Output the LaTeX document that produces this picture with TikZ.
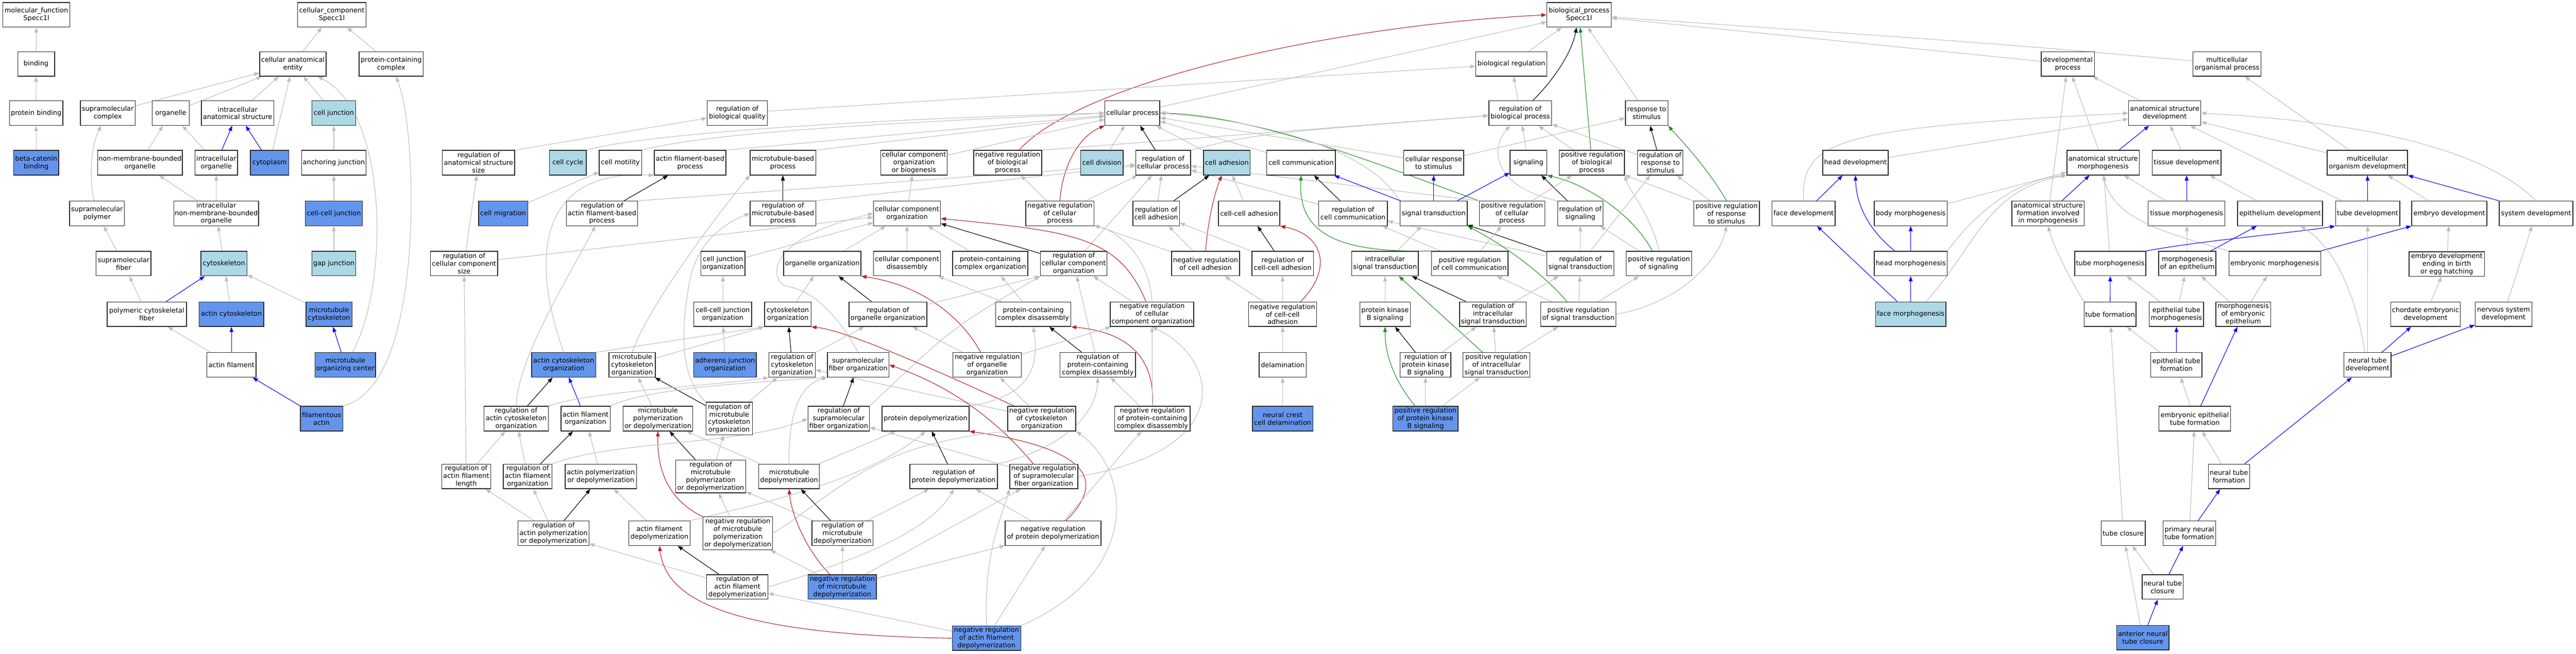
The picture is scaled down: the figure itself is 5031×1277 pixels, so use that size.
\documentclass[tikz,border=0pt]{standalone}
\usepackage{fontspec}
\setmainfont{DejaVu Sans}
\usetikzlibrary{arrows.meta,calc}
\definecolor{egray}{HTML}{BEBEBE}
\definecolor{cfblue}{HTML}{6495ED}
\definecolor{ltblue}{HTML}{ADD8E6}
\definecolor{fbred}{HTML}{B22222}
\definecolor{fgreen}{HTML}{228B22}
\definecolor{bord}{HTML}{2B2B2B}
\pgfdeclarelayer{bg}
\pgfsetlayers{bg,main}
\tikzset{
  gobox/.style={draw=bord, line width=1.4pt, fill=white, rectangle, minimum height=48pt,
    inner xsep=1.5pt, inner ysep=1pt, align=center, font=\fontsize{13pt}{15pt}\selectfont},
  cfill/.style={fill=cfblue},
  lfill/.style={fill=ltblue},
  tallbox/.style={minimum height=64pt},
  ed/.style={line width=1.1pt, -{Triangle[length=10pt,width=7.5pt]}},
  ge/.style={ed, draw=egray},
  ke/.style={ed, draw=black},
  be/.style={ed, draw=blue},
  re/.style={ed, draw=fbred},
  gre/.style={ed, draw=fgreen}
}
\newcommand\gn[6]{\node[gobox,minimum width=#4pt,#5] (#1) at (#2,#3) {#6};}
\newcommand\ee[3]{\draw[#1] (#2) -- (#3);}
\begin{document}
\begin{tikzpicture}[x=1pt,y=-1pt]
\begin{pgfonlayer}{bg}
\fill[white] (0,0) rectangle (5031,1277);
\end{pgfonlayer}
\useasboundingbox (0,0) rectangle (5031,1277);
% ---------------- MF / CC
\gn{mf}{71}{29}{131}{}{molecular\_function\\Specc1l}
\gn{bind}{70.5}{125}{72}{}{binding}
\gn{pbind}{70.7}{221}{104}{}{protein binding}
\gn{bcat}{70.7}{318}{88}{cfill}{beta-catenin\\binding}
\gn{cc}{648}{29}{134}{}{cellular\_component\\Specc1l}
\gn{cae}{572}{125}{130}{}{cellular anatomical\\entity}
\gn{pcc}{764}{125}{125}{}{protein-containing\\complex}
\gn{smc}{210.5}{221}{107}{}{supramolecular\\complex}
\gn{org}{333.5}{221}{72}{}{organelle}
\gn{ias}{464}{221}{141}{}{intracellular\\anatomical structure}
\gn{cj}{652}{221}{86}{lfill}{cell junction}
\gn{nmbo}{273.5}{318}{165}{}{non-membrane-bounded\\organelle}
\gn{io}{422.5}{318}{83}{}{intracellular\\organelle}
\gn{cyto}{526.6}{318}{75}{cfill}{cytoplasm}
\gn{aj}{652}{318}{126}{}{anchoring junction}
\gn{smp}{189.4}{417}{107}{}{supramolecular\\polymer}
\gn{inmbo}{422.4}{417}{165}{}{intracellular\\non-membrane-bounded\\organelle}
\gn{ccj}{652}{417}{112}{cfill}{cell-cell junction}
\gn{smf}{241.4}{515}{107}{}{supramolecular\\fiber}
\gn{csk}{437.4}{515}{90}{lfill}{cytoskeleton}
\gn{gj}{652}{515}{86}{lfill}{gap junction}
\gn{pcf}{286.6}{614}{155}{}{polymeric cytoskeletal\\fiber}
\gn{acsk}{452}{614}{126}{cfill}{actin cytoskeleton}
\gn{mcsk}{642.5}{614}{90}{cfill}{microtubule\\cytoskeleton}
\gn{af}{452}{713}{96}{}{actin filament}
\gn{mtoc}{674.4}{713}{118}{cfill}{microtubule\\organizing center}
\gn{fact}{628}{818}{83}{cfill}{filamentous\\actin}
% ---------------- BP left
\gn{rbq}{1440}{221}{118}{}{regulation of\\biological quality}
\gn{rass}{934.6}{318}{141}{}{regulation of\\anatomical structure\\size}
\gn{ccyc}{1109}{318}{72}{lfill}{cell cycle}
\gn{cmot}{1211.6}{318}{83}{}{cell motility}
\gn{afbp}{1347.7}{318}{140}{}{actin filament-based\\process}
\gn{mtbp}{1529}{318}{128}{}{microtubule-based\\process}
\gn{cmig}{982.6}{417}{96}{cfill}{cell migration}
\gn{rafbp}{1175.8}{417}{139}{}{regulation of\\actin filament-based\\process}
\gn{rmtbp}{1529}{417}{128}{}{regulation of\\microtubule-based\\process}
\gn{rccs}{906.4}{515}{131}{}{regulation of\\cellular component\\size}
\gn{cjo}{1412}{515}{86}{}{cell junction\\organization}
\gn{oo}{1606}{515}{151}{}{organelle organization}
\gn{ccjo}{1411.5}{614}{113}{}{cell-cell junction\\organization}
\gn{co}{1538.5}{614}{91}{}{cytoskeleton\\organization}
\gn{roo}{1734}{614}{152}{}{regulation of\\organelle organization}
\gn{aco}{1101}{713}{125}{cfill}{actin cytoskeleton\\organization}
\gn{mtco}{1234.7}{713}{90.5}{}{microtubule\\cytoskeleton\\organization}
\gn{ajo}{1416}{713}{122.5}{cfill}{adherens junction\\organization}
\gn{rco}{1547}{713}{90.5}{}{regulation of\\cytoskeleton\\organization}
\gn{sfo}{1676}{713}{120}{}{supramolecular\\fiber organization}
\gn{raco}{1008}{818}{125.7}{}{regulation of\\actin cytoskeleton\\organization}
\gn{afo}{1143.6}{818}{96}{}{actin filament\\organization}
\gn{mtpd}{1285}{818}{136}{}{microtubule\\polymerization\\or depolymerization}
\gn{rmtco}{1424}{818}{90.5}{tallbox}{regulation of\\microtubule\\cytoskeleton\\organization}
\gn{rsfo}{1638}{818}{120}{}{regulation of\\supramolecular\\fiber organization}
\gn{rafl}{910.5}{931}{96}{}{regulation of\\actin filament\\length}
\gn{rafo}{1030.6}{931}{95.4}{}{regulation of\\actin filament\\organization}
\gn{afpd}{1173.4}{931}{139}{}{actin polymerization\\or depolymerization}
\gn{rmpd}{1388}{931}{137}{tallbox}{regulation of\\microtubule\\polymerization\\or depolymerization}
\gn{md}{1541}{931}{119}{}{microtubule\\depolymerization}
\gn{rapd}{1081}{1042}{139}{}{regulation of\\actin polymerization\\or depolymerization}
\gn{afd}{1288}{1042}{120}{}{actin filament\\depolymerization}
\gn{nrmpd}{1441}{1042}{136}{tallbox}{negative regulation\\of microtubule\\polymerization\\or depolymerization}
\gn{rmd}{1645.5}{1042}{119.5}{}{regulation of\\microtubule\\depolymerization}
\gn{rafd}{1440}{1147}{120}{}{regulation of\\actin filament\\depolymerization}
\gn{nrmd}{1645}{1147}{133}{cfill}{negative regulation\\of microtubule\\depolymerization}
% ---------------- BP middle
\gn{cp}{2211.5}{221}{107}{}{cellular process}
\gn{ccob}{1785}{318}{130}{}{cellular component\\organization\\or biogenesis}
\gn{nrbp}{1968}{318}{133}{}{negative regulation\\of biological\\process}
\gn{cdiv}{2152}{318}{83}{lfill}{cell division}
\gn{rcp}{2271.7}{318}{107}{}{regulation of\\cellular process}
\gn{cadh}{2396}{318}{91}{lfill}{cell adhesion}
\gn{ccom}{2541}{318}{134}{}{cell communication}
\gn{cco}{1771.5}{417}{130.6}{}{cellular component\\organization}
\gn{nrcp}{2070}{417}{133}{}{negative regulation\\of cellular\\process}
\gn{rca}{2258}{417}{91}{}{regulation of\\cell adhesion}
\gn{cca}{2439.5}{417}{120}{}{cell-cell adhesion}
\gn{ccd}{1771.5}{515}{130.6}{}{cellular component\\disassembly}
\gn{pcco}{1934}{515}{147}{}{protein-containing\\complex organization}
\gn{rcco}{2097}{515}{130}{}{regulation of\\cellular component\\organization}
\gn{nrca}{2354.5}{515}{133}{}{negative regulation\\of cell adhesion}
\gn{rcca}{2505}{515}{120}{}{regulation of\\cell-cell adhesion}
\gn{pccd}{2018}{614}{147}{}{protein-containing\\complex disassembly}
\gn{nrcco}{2250}{614}{163}{}{negative regulation\\of cellular\\component organization}
\gn{nrcca}{2505}{614}{133}{}{negative regulation\\of cell-cell\\adhesion}
\gn{nroo}{1928}{713}{134}{}{negative regulation\\of organelle\\organization}
\gn{rpccd}{2144}{713}{147.5}{}{regulation of\\protein-containing\\complex disassembly}
\gn{delam}{2505}{713}{92}{}{delamination}
\gn{pd}{1807.7}{818}{170}{}{protein depolymerization}
\gn{nrco}{2034.6}{818}{133}{}{negative regulation\\of cytoskeleton\\organization}
\gn{nrpccd}{2250.5}{818}{147.5}{}{negative regulation\\of protein-containing\\complex disassembly}
\gn{nccd}{2505}{818}{118}{cfill}{neural crest\\cell delamination}
\gn{rpd}{1862.6}{931}{171}{}{regulation of\\protein depolymerization}
\gn{nrsfo}{2038.5}{931}{133}{}{negative regulation\\of supramolecular\\fiber organization}
\gn{nrpd}{2056.7}{1042}{187}{}{negative regulation\\of protein depolymerization}
\gn{nrafd}{1926.7}{1247}{134}{cfill}{negative regulation\\of actin filament\\depolymerization}
% ---------------- BP signaling
\gn{bp}{3084}{29}{126}{}{biological\_process\\Specc1l}
\gn{breg}{2951.7}{125}{139}{}{biological regulation}
\gn{rbp}{2969}{221}{122.5}{}{regulation of\\biological process}
\gn{rs}{3216}{221}{83}{}{response to\\stimulus}
\gn{crs}{2800}{318}{117}{}{cellular response\\to stimulus}
\gn{sig}{2985}{318}{72}{}{signaling}
\gn{prbp}{3109}{318}{127.4}{}{positive regulation\\of biological\\process}
\gn{rrs}{3242.6}{318}{88.4}{}{regulation of\\response to\\stimulus}
\gn{rcc}{2642.5}{417}{134}{}{regulation of\\cell communication}
\gn{st}{2800}{417}{131}{}{signal transduction}
\gn{prcp}{2953}{417}{128}{}{positive regulation\\of cellular\\process}
\gn{rsig}{3086.5}{417}{88.4}{}{regulation of\\signaling}
\gn{prrs}{3372}{417}{128}{}{positive regulation\\of response\\to stimulus}
\gn{ist}{2705}{515}{130}{}{intracellular\\signal transduction}
\gn{prcc}{2870.5}{515}{149.6}{}{positive regulation\\of cell communication}
\gn{rst}{3086.5}{515}{130.6}{}{regulation of\\signal transduction}
\gn{prs}{3240}{515}{127.4}{}{positive regulation\\of signaling}
\gn{pkb}{2705}{614}{98.7}{}{protein kinase\\B signaling}
\gn{rist}{2915.7}{614}{130.6}{}{regulation of\\intracellular\\signal transduction}
\gn{prst}{3082.6}{614}{147}{}{positive regulation\\of signal transduction}
\gn{rpkb}{2784}{713}{99}{}{regulation of\\protein kinase\\B signaling}
\gn{prist}{2922.6}{713}{131}{}{positive regulation\\of intracellular\\signal transduction}
\gn{prpkb}{2784}{818}{127.4}{cfill}{positive regulation\\of protein kinase\\B signaling}
% ---------------- development
\gn{devp}{4038.4}{125}{104}{}{developmental\\process}
\gn{mop}{4349.3}{125}{133}{}{multicellular\\organismal process}
\gn{asd}{4227.7}{221}{141}{}{anatomical structure\\development}
\gn{hdev}{3623.8}{318}{128}{}{head development}
\gn{asm}{4107.5}{318}{141.5}{}{anatomical structure\\morphogenesis}
\gn{tdev}{4270.5}{318}{134}{}{tissue development}
\gn{mod}{4623.6}{318}{157}{}{multicellular\\organism development}
\gn{fdev}{3522.5}{417}{123}{}{face development}
\gn{bmorph}{3731.6}{417}{142}{}{body morphogenesis}
\gn{asfim}{4000}{417}{141.5}{}{anatomical structure\\formation involved\\in morphogenesis}
\gn{tmorph}{4270.5}{417}{150}{}{tissue morphogenesis}
\gn{epdev}{4453}{417}{166}{}{epithelium development}
\gn{tubedev}{4624}{417}{125.5}{}{tube development}
\gn{edev}{4783.5}{417}{147}{}{embryo development}
\gn{sysdev}{4953}{417}{144}{}{system development}
\gn{hmorph}{3731.6}{515}{142}{}{head morphogenesis}
\gn{tubemorph}{4121.4}{515}{139}{}{tube morphogenesis}
\gn{moe}{4271.8}{515}{112}{}{morphogenesis\\of an epithelium}
\gn{emorph}{4442.6}{515}{179}{}{embryonic morphogenesis}
\gn{edeb}{4778.6}{516}{147}{}{embryo development\\ending in birth\\or egg hatching}
\gn{fmorph}{3731.6}{614}{137.7}{lfill}{face morphogenesis}
\gn{tubeform}{4121}{614}{101.4}{}{tube formation}
\gn{etm}{4250.6}{614}{106}{}{epithelial tube\\morphogenesis}
\gn{mee}{4381}{614}{107}{}{morphogenesis\\of embryonic\\epithelium}
\gn{ced}{4737}{614}{136}{}{chordate embryonic\\development}
\gn{nsd}{4889.4}{614}{110.5}{}{nervous system\\development}
\gn{etf}{4250.6}{713}{100}{}{epithelial tube\\formation}
\gn{ntd}{4623.7}{713}{91.7}{}{neural tube\\development}
\gn{eetf}{4286.4}{818}{139.5}{}{embryonic epithelial\\tube formation}
\gn{ntf}{4353}{931}{80.5}{}{neural tube\\formation}
\gn{tclos}{4146.6}{1042}{86}{}{tube closure}
\gn{pntf}{4275.8}{1042}{103}{}{primary neural\\tube formation}
\gn{ntc}{4223.6}{1147}{80}{}{neural tube\\closure}
\gn{antc}{4185}{1246}{101.7}{cfill}{anterior neural\\tube closure}
% ================= EDGES
\begin{pgfonlayer}{bg}
% MF / CC
\ee{ge}{bind}{mf}
\ee{ge}{pbind}{bind}
\ee{ge}{bcat}{pbind}
\ee{ge}{cae}{cc}
\ee{ge}{pcc}{cc}
\ee{ge}{smc}{cae}
\ee{ge}{org}{cae}
\ee{ge}{ias}{cae}
\ee{ge}{cj}{cae}
\ee{ge}{cyto}{cae}
\ee{ge}{nmbo}{org}
\ee{ge}{io}{org}
\ee{be}{io}{ias}
\ee{be}{cyto}{ias}
\ee{ge}{aj}{cj}
\draw[ge] (smp) .. controls (172,340) and (180,280) .. (smc);
\ee{ge}{inmbo}{nmbo}
\ee{ge}{inmbo}{io}
\ee{ge}{ccj}{aj}
\ee{ge}{smf}{smp}
\ee{ge}{csk}{inmbo}
\ee{ge}{gj}{ccj}
\ee{ge}{pcf}{smf}
\ee{be}{pcf}{csk}
\ee{ge}{acsk}{csk}
\ee{ge}{mcsk}{csk}
\ee{ge}{af}{pcf}
\ee{be}{af}{acsk}
\ee{be}{mtoc}{mcsk}
\draw[ge] (mtoc) .. controls (760,560) and (760,220) .. (cae);
\ee{be}{fact}{af}
\draw[ge] (fact.north east) .. controls (800,760) and (810,450) .. (800,300) .. controls (795,220) and (785,180) .. (pcc);
% BP top
\ee{ge}{breg}{bp}
\draw[ke] (rbp) .. controls (3040,150) and (3070,100) .. (bp);
\ee{gre}{prbp}{bp}
\ee{ge}{rs}{bp}
\draw[re] (nrbp) .. controls (2110,160) and (2600,50) .. (bp.west);
\ee{ge}{cp}{bp}
\ee{ge}{devp}{bp}
\draw[ge] (mop) .. controls (3900,85) .. (bp);
\ee{ge}{rbp}{breg}
\ee{ge}{rbq}{breg}
\draw[ge] (nrbp.north east) -- (rbp);
\draw[ge] (rcp.north east) .. controls (2450,262) .. (rbp);
\ee{ge}{prbp}{rbp}
\ee{ge}{rrs}{rbp}
\ee{ge}{sig}{rbp}
\draw[ge] (rsig.north west) .. controls (2915,365) and (2910,290) .. ($(rbp.south)+(-20,0)$);
\ee{ge}{crs}{rs}
\ee{ke}{rrs}{rs}
\draw[gre] (prrs.north) .. controls (3330,320) and (3270,260) .. (rs.south east);
% cellular process
\draw[ge] (ccyc.north east) .. controls (1250,262) and (1700,232) .. (cp.west);
\draw[ge] (cmot.north east) .. controls (1400,255) and (1800,238) .. (cp.west);
\draw[ge] (afbp.north east) -- (cp);
\draw[ge] (mtbp.north east) -- (cp);
\ee{ge}{ccob}{cp}
\ee{ge}{cdiv}{cp}
\ee{ke}{rcp}{cp}
\ee{ge}{cadh}{cp}
\ee{ge}{ccom}{cp}
\draw[re] (nrcp.north) .. controls (2075,320) and (2110,265) .. (cp.south west);
\draw[gre] (prcp.north west) .. controls (2690,320) and (2450,225) .. (cp.east);
\ee{ge}{crs}{cp}
\draw[ge] (st.north west) .. controls (2670,285) and (2450,235) .. (cp.east);
\draw[ge] (rass.north east) -- (rbq);
\ee{ge}{cmig}{cmot}
\ee{ke}{rafbp}{afbp}
\draw[ge] (aco.north) .. controls (1040,520) and (1040,330) .. (afbp.south west);
\ee{ke}{rmtbp}{mtbp}
\draw[ge] (mtco.north) .. controls (1265,600) and (1400,420) .. (mtbp.south west);
\draw[ge] (rafbp.north east) -- (rcp);
\draw[ge] (rmtbp.north east) -- (rcp);
\ee{ge}{nrcp}{rcp}
\ee{ge}{rca}{rcp}
\ee{ge}{rcco}{rcp}
\ee{ge}{rcc}{rcp}
\draw[ge] (prcp.north west) -- (rcp);
\ee{ge}{rccs}{rass}
\ee{ge}{cco}{ccob}
\ee{ge}{nrcp}{nrbp}
\ee{ke}{rca}{cadh}
\ee{ge}{cca}{cadh}
\draw[re] (nrca.north) .. controls (2360,420) and (2375,370) .. ($(cadh.south)+(-10,0)$);
\ee{ke}{rcc}{ccom}
\ee{be}{st}{ccom}
\draw[gre] (prcc.north west) .. controls (2600,495) and (2535,450) .. (ccom.south);
\ee{be}{st}{crs}
\ee{be}{st}{sig}
\ee{ke}{rsig}{sig}
\draw[gre] (prs) .. controls (3190,420) and (3100,360) .. (sig.south east);
\ee{ge}{prcp}{prbp}
\draw[ge] (prs.north) .. controls (3225,420) and (3180,370) .. (prbp.south east);
\ee{ge}{prrs}{prbp}
\ee{ge}{rst}{rrs}
\ee{ge}{prrs}{rrs}
% cellular component organization
\ee{ge}{rccs}{cco}
\ee{ge}{cjo}{cco}
\ee{ge}{oo}{cco}
\draw[ge] (sfo.north) .. controls (1650,640) and (1600,570) .. (1540,560) .. controls (1505,555) and (1480,470) .. (cco.west);
\ee{ge}{ccd}{cco}
\ee{ge}{pcco}{cco}
\ee{ke}{rcco}{cco}
\draw[re] ($(nrcco.north)+(-12,0)$) .. controls (2185,460) and (2090,452) .. ($(cco.east)+(0,10)$);
\ee{ge}{nrca}{nrcp}
\draw[ge] (nrcco.north) .. controls (2245,500) and (2180,450) .. (nrcp.south east);
\ee{ge}{nrca}{rca}
\ee{ge}{rcca}{rca}
\ee{ke}{rcca}{cca}
\draw[re] ($(nrcca.north)+(35,0)$) .. controls (2600,530) and (2590,460) .. (cca.south east);
\ee{ge}{rst}{rcc}
\ee{ge}{prcc}{rcc}
\ee{ge}{ist}{st}
\ee{ke}{rst}{st}
\draw[gre] ($(prst.north)+(-22,0)$) .. controls (3000,520) and (2920,470) .. (st.south east);
\ee{ge}{prcc}{prcp}
\ee{ge}{rst}{rsig}
\ee{ge}{prs}{rsig}
\draw[ge] (prst.east) .. controls (3290,590) and (3360,500) .. (prrs.south);
\draw[ge] (raco.north) .. controls (1012,700) and (1100,560) .. (rafbp);
\draw[ge] (rmtco.north west) .. controls (1320,730) and (1335,620) .. (1345,560) .. controls (1352,510) and (1380,450) .. (rmtbp.west);
\ee{ge}{rafl}{rccs}
\ee{ge}{ccjo}{cjo}
\ee{ge}{co}{oo}
\ee{ke}{roo}{oo}
\draw[re] (nroo) .. controls (1890,640) and (1820,560) .. (oo.south east);
\ee{ge}{pccd}{ccd}
\ee{ge}{pccd}{pcco}
\draw[ge] (roo) -- (rcco.south west);
\ee{ge}{rpccd}{rcco}
\draw[ge] (rsfo.north east) .. controls (1860,640) .. (rcco.south west);
\ee{ge}{nrcco}{rcco}
\ee{ge}{nrcca}{nrca}
\ee{ge}{nrcca}{rcca}
\ee{ge}{pkb}{ist}
\ee{ke}{rist}{ist}
\ee{gre}{prist}{ist}
\ee{ge}{prst}{prcc}
\ee{ge}{rist}{rst}
\ee{ge}{prst}{rst}
\ee{ge}{prst}{prs}
\ee{ge}{ajo}{ccjo}
\draw[ge] (aco.north east) -- (co.south west);
\draw[ge] (mtco) -- (co.south west);
\ee{ke}{rco}{co}
\draw[re] (nrco) .. controls (1810,715) and (1650,645) .. (co.south east);
\ee{ge}{rco}{roo}
\ee{ge}{nroo}{roo}
\ee{ke}{rpccd}{pccd}
\draw[ge] (pd.north east) .. controls (2010,775) and (2030,720) .. (pccd.south);
\draw[re] (nrpccd.north) .. controls (2256,710) and (2215,650) .. (pccd.south east);
\ee{ge}{nroo}{nrcco}
\ee{ge}{nrpccd}{nrcco}
\draw[ge] (nrsfo.east) .. controls (2420,880) and (2380,700) .. (nrcco.south);
\ee{ge}{delam}{nrcca}
\ee{ke}{rpkb}{pkb}
\draw[gre] (prpkb) .. controls (2720,740) and (2705,690) .. (pkb.south);
\ee{ge}{rpkb}{rist}
\ee{ge}{prist}{rist}
\ee{ge}{prist}{prst}
\ee{ke}{raco}{aco}
\ee{be}{afo}{aco}
\ee{ge}{mtpd}{mtco}
\ee{ke}{rmtco}{mtco}
\draw[ge] (raco.north east) .. controls (1150,765) and (1380,755) .. (rco.south west);
\ee{ge}{rmtco}{rco}
\ee{ge}{nrco}{rco}
\draw[ge] (afo.north east) .. controls (1260,760) and (1450,748) .. (sfo.south west);
\ee{ke}{rsfo}{sfo}
\draw[ge] (md.north) .. controls (1540,790) and (1570,750) .. (sfo.south west);
\draw[re] (nrsfo) .. controls (1930,800) and (1830,745) .. (sfo.east);
\ee{ge}{nrco}{nroo}
\ee{ge}{nrpccd}{rpccd}
\draw[ge] (rpd.north east) .. controls (2060,880) and (2140,820) .. (rpccd.south);
\ee{ge}{nccd}{delam}
\ee{ge}{prpkb}{rpkb}
\ee{ge}{prpkb}{prist}
\ee{ge}{rafl}{raco}
\ee{ge}{rafo}{raco}
\ee{ke}{rafo}{afo}
\ee{ge}{afpd}{afo}
\ee{ke}{rmpd}{mtpd}
\ee{ge}{md}{mtpd}
\draw[re] (nrmpd.north west) .. controls (1300,975) and (1283,910) .. (mtpd.south);
\ee{ge}{rmpd}{rmtco}
\draw[ge] (rafo.north east) .. controls (1200,860) and (1450,870) .. (rsfo.west);
\ee{ge}{nrsfo}{rsfo}
\ee{ge}{md}{pd}
\draw[ge] (afd.north east) .. controls (1430,995) and (1680,950) .. (pd.south);
\ee{ke}{rpd}{pd}
\draw[re] ($(nrpd.north)+(25,0)$) .. controls (2150,950) and (2150,880) .. (pd.south east);
\draw[ge] (nrmpd.east) .. controls (1640,960) and (1700,870) .. (nrco.south west);
\draw[ge] (nrafd.north east) .. controls (2230,1120) and (2210,920) .. (nrco.south east);
\ee{ge}{nrpd}{nrpccd}
\ee{ge}{rapd}{rafl}
\ee{ge}{rapd}{rafo}
\ee{ke}{rapd}{afpd}
\ee{ge}{afd}{afpd}
\ee{ge}{nrmpd}{rmpd}
\ee{ge}{rmd}{rmpd}
\ee{ke}{rmd}{md}
\draw[re] (nrmd) .. controls (1570,1070) and (1545,1000) .. (md.south);
\ee{ge}{rmd}{rpd}
\draw[ge] (rafd.east) .. controls (1620,1110) and (1810,1050) .. (rpd.south);
\ee{ge}{nrpd}{rpd}
\ee{ge}{nrmd}{nrsfo}
\draw[ge] (nrafd.north) .. controls (1920,1080) and (1960,1000) .. (nrsfo.south west);
\ee{ge}{rafd}{rapd}
\ee{ke}{rafd}{afd}
\draw[re] (nrafd.west) .. controls (1420,1240) and (1300,1170) .. (afd.south);
\ee{ge}{nrmd}{nrmpd}
\ee{ge}{nrmd}{rmd}
\ee{ge}{nrmd}{nrpd}
\ee{ge}{nrafd}{nrpd}
\ee{ge}{nrafd}{rafd}
% development
\ee{ge}{asd}{devp}
\ee{ge}{asfim}{devp}
\ee{ge}{asm}{devp}
\ee{ge}{mod}{mop}
\ee{ge}{mod}{asd}
\ee{ge}{tdev}{asd}
\ee{ge}{tubedev}{asd}
\draw[ge] (sysdev.north) .. controls (4860,300) and (4650,240) .. (asd.east);
\ee{be}{asm}{asd}
\ee{ge}{hdev}{asd}
\draw[ge] (fdev.north) .. controls (3515,270) and (3600,250) .. (asd.west);
\ee{be}{tmorph}{tdev}
\ee{ge}{epdev}{tdev}
\ee{ge}{tmorph}{asm}
\ee{be}{tubedev}{mod}
\ee{ge}{edev}{mod}
\draw[be] (sysdev.north west) -- (mod.south east);
\ee{ge}{moe}{tmorph}
\ee{be}{moe}{epdev}
\draw[be] (emorph.north east) -- (edev.south west);
\draw[ge] (emorph.north west) .. controls (4230,455) and (4130,430) .. (asm.south);
\ee{ge}{edeb}{edev}
\ee{ge}{etm}{moe}
\ee{ge}{etm}{tubemorph}
\ee{ge}{mee}{moe}
\ee{ge}{mee}{emorph}
\ee{ge}{ced}{edeb}
\ee{ge}{nsd}{sysdev}
\ee{ge}{tubemorph}{asm}
\draw[be] (tubemorph.north east) .. controls (4300,470) and (4480,455) .. (tubedev.south west);
\ee{be}{tubeform}{tubemorph}
\draw[ge] (tubeform.north west) .. controls (4040,540) and (4010,480) .. (asfim.south);
\ee{ge}{bmorph}{asm}
\ee{be}{hmorph}{bmorph}
\draw[be] (hmorph) .. controls (3650,450) and (3625,400) .. (hdev.south);
\draw[ge] (hmorph.north east) .. controls (3870,400) and (3950,350) .. (asm.south west);
\ee{be}{fmorph}{hmorph}
\ee{be}{fmorph}{fdev}
\draw[ge] ($(fmorph.north)+(30,0)$) .. controls (3860,480) and (3880,370) .. (asm.south west);
\ee{be}{fdev}{hdev}
\ee{be}{asfim}{asm}
\ee{be}{etf}{etm}
\ee{ge}{etf}{tubeform}
\ee{ge}{eetf}{etf}
\ee{be}{eetf}{mee}
\ee{ge}{ntf}{eetf}
\ee{be}{ntf}{ntd}
\ee{ge}{pntf}{eetf}
\ee{be}{pntf}{ntf}
\ee{be}{ntc}{pntf}
\ee{ge}{ntc}{tclos}
\ee{be}{antc}{ntc}
\ee{ge}{antc}{tclos}
\ee{ge}{tclos}{tubeform}
\ee{ge}{ntd}{tubedev}
\draw[ge] ($(ntd.north)+(-5,0)$) .. controls (4605,600) and (4570,490) .. ($(epdev.south)+(40,0)$);
\ee{be}{ntd}{ced}
\ee{be}{ntd}{nsd}
\end{pgfonlayer}
\end{tikzpicture}
\end{document}
